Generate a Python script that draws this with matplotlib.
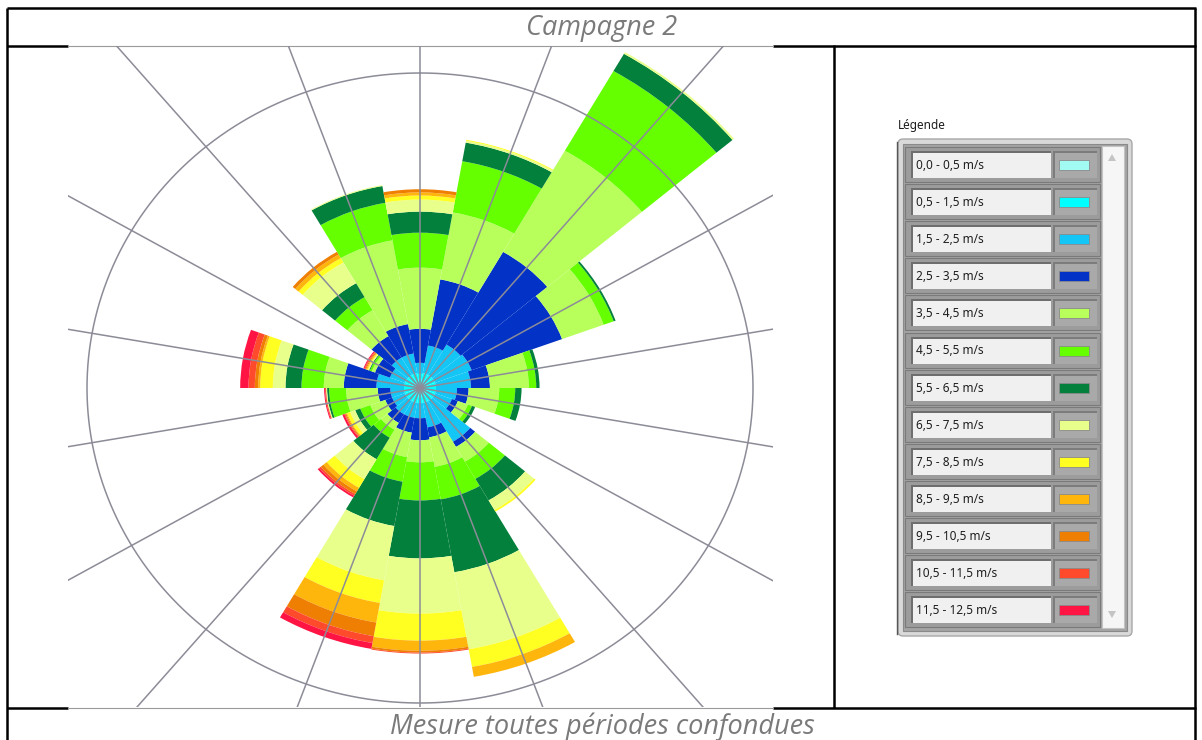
import numpy as np
import matplotlib.pyplot as plt
from matplotlib.patches import Rectangle, FancyBboxPatch, Polygon

# wind directions (deg, clockwise from north) and speed classes
directions = np.arange(0, 360, 20)
speed_labels = ["0,0 - 0,5 m/s", "0,5 - 1,5 m/s", "1,5 - 2,5 m/s", "2,5 - 3,5 m/s",
                "3,5 - 4,5 m/s", "4,5 - 5,5 m/s", "5,5 - 6,5 m/s", "6,5 - 7,5 m/s",
                "7,5 - 8,5 m/s", "8,5 - 9,5 m/s", "9,5 - 10,5 m/s", "10,5 - 11,5 m/s",
                "11,5 - 12,5 m/s"]
speed_colors = ["#a2fbf2", "#00ffff", "#14c6f6", "#0232c6", "#b9ff5c", "#66ff00",
                "#03803c", "#e9ff8c", "#ffff22", "#ffb60c", "#ef7f02", "#ff4a2c",
                "#ff1444"]

# frequency (%) per direction for each speed class
f_00_05 = [0.10] * 18
f_05_15 = [0.35, 0.38, 0.38, 0.38, 0.38, 0.38, 0.38, 0.38, 0.38,
           0.38, 0.38, 0.38, 0.38, 0.38, 0.38, 0.38, 0.38, 0.38]
f_15_25 = [0.35, 0.89, 1.11, 1.17, 1.05, 0.63, 0.54, 1.49, 0.79,
           0.48, 0.48, 0.48, 0.41, 0.41, 0.83, 0.48, 0.63, 0.63]
f_25_35 = [1.08, 2.13, 3.40, 2.89, 0.57, 0.35, 0.19, 0.19, 0.32,
           0.70, 0.48, 0.32, 0.22, 0.38, 0.98, 0.48, 0.79, 0.95]
f_35_45 = [1.94, 2.16, 3.71, 1.33, 1.17, 0.92, 0.32, 0.54, 0.95,
           0.70, 0.79, 0.25, 0.48, 0.95, 0.60, 0.10, 0.95, 2.70]
f_45_55 = [1.11, 1.65, 2.92, 0.32, 0.22, 0.48, 0.13, 0.63, 1.05,
           1.21, 0.79, 0.29, 0.32, 0.51, 0.67, 0.06, 0.48, 1.21]
f_55_65 = [0.67, 0.60, 0.63, 0.06, 0.10, 0.19, 0.10, 0.79, 2.35,
           1.84, 1.43, 0.79, 0.16, 0.06, 0.48, 0.03, 0.51, 0.54]
f_65_75 = [0.38, 0.06, 0.06, 0.00, 0.00, 0.00, 0.00, 0.35, 2.48,
           1.75, 1.75, 0.73, 0.16, 0.03, 0.38, 0.03, 0.76, 0.03]
f_75_85 = [0.13, 0.03, 0.00, 0.00, 0.00, 0.00, 0.00, 0.06, 0.57,
           0.86, 0.73, 0.32, 0.10, 0.00, 0.38, 0.03, 0.16, 0.00]
f_85_95 = [0.10, 0.00, 0.00, 0.00, 0.00, 0.00, 0.00, 0.00, 0.32,
           0.32, 0.63, 0.13, 0.03, 0.00, 0.06, 0.03, 0.13, 0.00]
f_95_105 = [0.10, 0.00, 0.00, 0.00, 0.00, 0.00, 0.00, 0.00, 0.00,
            0.06, 0.44, 0.10, 0.03, 0.00, 0.10, 0.03, 0.10, 0.00]
f_105_115 = [0.00, 0.00, 0.00, 0.00, 0.00, 0.00, 0.00, 0.00, 0.00,
             0.03, 0.22, 0.06, 0.03, 0.03, 0.19, 0.03, 0.00, 0.00]
f_115_125 = [0.00, 0.00, 0.00, 0.00, 0.00, 0.00, 0.00, 0.00, 0.00,
             0.00, 0.19, 0.06, 0.06, 0.03, 0.25, 0.03, 0.00, 0.00]
freqs = [f_00_05, f_05_15, f_15_25, f_25_35, f_35_45, f_45_55, f_55_65,
         f_65_75, f_75_85, f_85_95, f_95_105, f_105_115, f_115_125]

ring = 10      # one grid circle
r_max = 20

W, H = 1202, 740
fig = plt.figure(figsize=(W / 100, H / 100), dpi=100)

# background axes in pixel units for the table frame and the legend
base = fig.add_axes([0, 0, 1, 1])
base.set_xlim(0, W)
base.set_ylim(H, 0)
base.axis("off")

black = dict(color="black", lw=1.8, solid_capstyle="butt")
base.plot([7, 1196], [8, 8], **black)
base.plot([7, 7], [8, 745], **black)
base.plot([1195, 1195], [8, 745], **black)
base.plot([834, 834], [45, 708], **black)
for yy in (45.5, 707.5):
    base.plot([7, 68], [yy, yy], **black)
    base.plot([773, 1196], [yy, yy], **black)
    base.plot([68, 773], [yy, yy], color="#9a9a9a", lw=0.8)

txt = dict(family="Open Sans", style="italic", color="#7a7a7a", ha="center", va="center")
base.text(602, 28, "Campagne 2", fontsize=19.5, **txt)
base.text(602, 727, "Mesure toutes périodes confondues", fontsize=19.5, **txt)

# legend panel
lg = dict(fontsize=8.5, family="Noto Sans", color="#1e1e1e", ha="left", va="center")
base.text(898, 126, "Légende", **lg)
base.add_patch(FancyBboxPatch((898, 139), 234, 497, boxstyle="round,pad=0,rounding_size=5",
                              fc="#d9d9d9", ec="#a8a8a8", lw=1))
base.plot([897, 897], [142, 634], color="#555555", lw=1)
base.add_patch(Rectangle((903, 144), 224, 487, fc="#a4a4a4", ec="#8a8a8a", lw=0.8))
base.add_patch(Rectangle((1102, 146), 22, 482, fc="#f6f6f6", ec="#c4c4c4", lw=0.8))
base.add_patch(Polygon([[1108, 161], [1116, 161], [1112, 154]], closed=True, fc="#c4c4c4", ec="none"))
base.add_patch(Polygon([[1108, 611], [1116, 611], [1112, 618]], closed=True, fc="#c4c4c4", ec="none"))

for i, (lab, col) in enumerate(zip(speed_labels, speed_colors)):
    y0 = 147 + 37.1 * i
    base.add_patch(Rectangle((905, y0), 195, 35, fc="#9c9c9c", ec="#7a7a7a", lw=0.8))
    base.add_patch(Rectangle((911, y0 + 4), 140, 27, fc="#6e6e6e", ec="none"))
    base.add_patch(Rectangle((913, y0 + 6), 138, 25, fc="#f0f0f0", ec="none"))
    base.add_patch(Rectangle((1053, y0 + 4), 44, 27, fc="#7c7c7c", ec="none"))
    base.add_patch(Rectangle((1055, y0 + 6), 42, 25, fc="#a9a9a9", ec="none"))
    base.add_patch(Rectangle((1059, y0 + 13), 30, 10, fc=col, ec="#8a8a8a", lw=0.6))
    base.text(916, y0 + 18.5, lab, **lg)

# wind rose, slightly wider than tall like the exported image
cx, cy = 420, 388
rx, ry = 333 / ring * r_max, 315 / ring * r_max
ax = fig.add_axes([(cx - rx) / W, 1 - (cy + ry) / H, 2 * rx / W, 2 * ry / H],
                  projection="polar")
ax.set_aspect("auto")
ax.set_theta_zero_location("N")
ax.set_theta_direction(-1)
ax.patch.set_visible(False)
ax.spines["polar"].set_visible(False)
ax.grid(False)
ax.set_xticks([])
ax.set_yticks([])

clip = Rectangle((68 / W, 1 - 707 / H), 705 / W, 661 / H, transform=fig.transFigure)

theta = np.deg2rad(directions)
bottom = np.zeros(len(directions))
for vals, col in zip(freqs, speed_colors):
    vals = np.array(vals)
    bars = ax.bar(theta, vals, width=np.deg2rad(20), bottom=bottom, color=col,
                  edgecolor="none", linewidth=0, align="center")
    for b in bars:
        b.set_clip_path(clip)
    bottom = bottom + vals

grid_kw = dict(color="#8c8c98", lw=1.1, zorder=5)
for t in theta:
    ln, = ax.plot([t, t], [0, r_max], **grid_kw)
    ln.set_clip_path(clip)
circ = np.linspace(0, 2 * np.pi, 500)
ln, = ax.plot(circ, np.full_like(circ, ring), **grid_kw)
ln.set_clip_path(clip)
ax.set_ylim(0, r_max)

fig.savefig("out.png", dpi=100)
